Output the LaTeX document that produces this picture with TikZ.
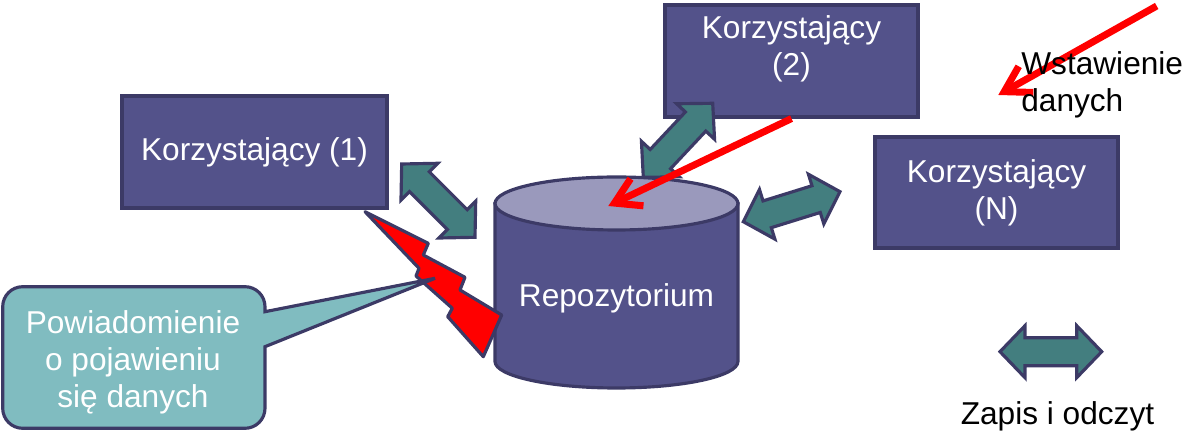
\documentclass[tikz,border=0pt]{standalone}
\usepackage{fontspec}
\setmainfont{Liberation Sans}
\usetikzlibrary{positioning,arrows.meta,calc}
\definecolor{rpfiolet}{HTML}{53528A}
\definecolor{rpgranat}{HTML}{3C3A66}
\definecolor{rpjasny}{HTML}{9A99BC}
\definecolor{rpturkus}{HTML}{437E7F}
\definecolor{rpmorski}{HTML}{80BCC0}
\definecolor{rpczerwony}{HTML}{FF0000}
\newcommand{\rptekst}{\fontsize{18}{21}\selectfont}
\tikzset{
  rpblok/.style={draw=rpgranat, fill=rpfiolet, line width=1.8pt, text=white, align=center,
                 font=\rptekst, inner sep=0pt},
  rpopis/.style={text=white, align=center, font=\rptekst, inner sep=0pt},
  rpnapis/.style={text=black, align=left, font=\rptekst, inner sep=0pt},
  rpwalec/.style={draw=rpgranat, fill=rpfiolet, line width=1.8pt},
  rpdwustr/.style={draw=rpgranat, fill=rpturkus, line width=1.8pt},
  rpseta/.style={-{Straight Barb[length=5mm, width=6mm]}, line width=4pt, draw=rpczerwony},
  rppiorun/.style={draw=rpgranat, fill=rpczerwony, line width=1.8pt, line join=round},
  rpdymek/.style={draw=rpgranat, fill=rpmorski, line width=1.8pt},
}
\newcommand{\rpstrzalka}[2]{%
  \coordinate (ga) at ($(#1)!0.5cm!(#2)$);
  \coordinate (gb) at ($(#2)!0.5cm!(#1)$);
  \draw[rpdwustr] (#1) -- ($(ga)!0.52cm!90:(#2)$) -- ($(ga)!0.28cm!90:(#2)$)
    -- ($(gb)!0.28cm!-90:(#1)$) -- ($(gb)!0.52cm!-90:(#1)$) -- (#2)
    -- ($(gb)!0.52cm!90:(#1)$) -- ($(gb)!0.28cm!90:(#1)$)
    -- ($(ga)!0.28cm!-90:(#2)$) -- ($(ga)!0.52cm!-90:(#2)$) -- cycle;}

\begin{document}
\begin{tikzpicture}[x=0.02cm, y=-0.02cm]
  \useasboundingbox (0,0) rectangle (1184,438);
  \node[rpblok, minimum width=5.3cm, minimum height=2.24cm] (k1) at (254.5,152) {Korzystający (1)};
  \node[rpblok, minimum width=5.06cm, minimum height=2.24cm] (k2) at (791.5,61) {};
  \node[rpopis, anchor=north] (k2opis) at (791.5,15) {Korzystający\\(2)};
  \node[rpblok, minimum width=4.86cm, minimum height=2.22cm] (kn) at (996.5,192.5) {Korzystający\\(N)};

  \coordinate (s1a) at (401.7,164);   \coordinate (s1b) at (475,237.3);
  \coordinate (s2a) at (712.7,103.3); \coordinate (s2b) at (643.3,177.3);
  \coordinate (s3a) at (743.3,221.7); \coordinate (s3b) at (840,191.7);
  \coordinate (s4a) at (1000,351.7);  \coordinate (s4b) at (1101.7,351.7);
  \rpstrzalka{s1a}{s1b}
  \rpstrzalka{s2a}{s2b}
  \rpstrzalka{s3a}{s3b}
  \rpstrzalka{s4a}{s4b}

  \draw[rpwalec] (495,203.5) -- (495,361.5)
    arc[start angle=180, end angle=360, x radius=2.43cm, y radius=0.53cm] -- (738,203.5) -- cycle;
  \draw[rpwalec, fill=rpjasny] (616.5,203.5) ellipse[x radius=2.43cm, y radius=0.53cm];
  \node[rpopis, anchor=base] (repo) at (616.5,307) {Repozytorium};

  \coordinate (gora) at (608.3,206);
  \coordinate (w1) at (1156.7,6);
  \coordinate (w2) at (998.3,95);
  \draw[rpseta] (w1) -- (w2);
  \draw[rpseta] (k2.south) -- (gora);

  \draw[rppiorun] (365,211.7) -- (428.3,243.3) -- (423.3,255) -- (465,277.3) -- (460,290)
    -- (501.7,315) -- (483.3,356.7) -- (447.7,316.7) -- (452.3,308.3) -- (416,276)
    -- (419,268.3) -- cycle;

  \draw[rpdymek] (265,311.7) -- (435,278.3) -- (265,346.7) -- (265,408.3)
    arc[start angle=0, end angle=-90, radius=0.4cm] -- (22.7,428.3)
    arc[start angle=-90, end angle=-180, radius=0.4cm] -- (2.7,306.7)
    arc[start angle=180, end angle=90, radius=0.4cm] -- (245,286.7)
    arc[start angle=90, end angle=0, radius=0.4cm] -- cycle;
  \node[rpopis, anchor=north] (dymek) at (133,310) {Powiadomienie\\o pojawieniu\\się danych};

  \node[rpnapis, anchor=north west] (wstaw) at (1021,51) {Wstawienie\\danych};
  \node[rpnapis, anchor=base] (zapis) at (1057.5,425) {Zapis i odczyt};
\end{tikzpicture}
\end{document}
